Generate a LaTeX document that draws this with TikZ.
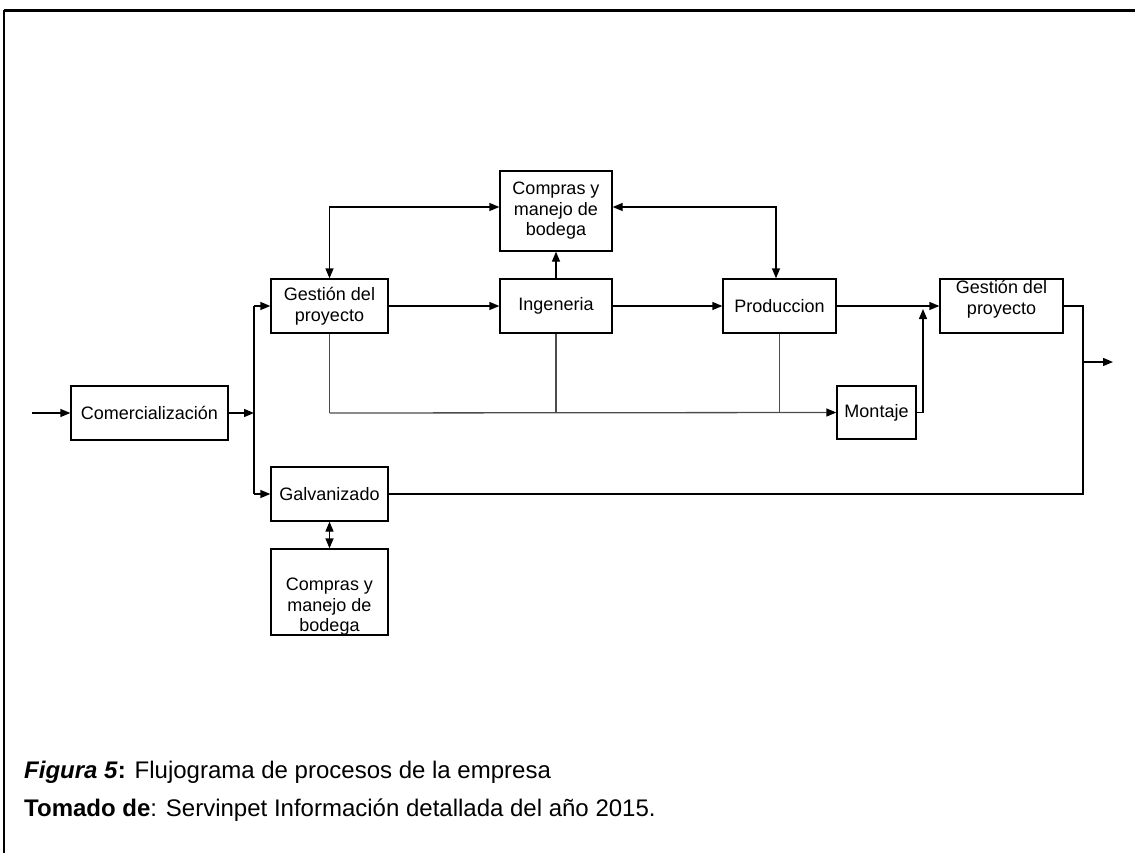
\documentclass[tikz,border=0pt]{standalone}
\usepackage{fontspec}
\setmainfont{Liberation Sans}
\usetikzlibrary{arrows.meta}
\begin{document}
\begin{tikzpicture}[x=1pt,y=-1pt,
  box/.style={draw, line width=1.3pt, inner sep=0pt, align=center,
    font=\fontsize{18}{20.5}\selectfont},
  txt/.style={inner sep=0pt, align=center, font=\fontsize{18}{20.5}\selectfont},
  flow/.style={line width=1.3pt, -{Triangle[length=10pt,width=8pt,color=black]}},
  both/.style={line width=1.3pt, {Triangle[length=10pt,width=8pt]}-{Triangle[length=10pt,width=8pt]}},
  wire/.style={line width=1.3pt},
  buswire/.style={line width=1.3pt, draw=black!70},
  captext/.style={anchor=base west, inner sep=0pt, font=\fontsize{24}{28}\selectfont}]
\useasboundingbox (0,0) rectangle (1135,853);

% frame (top and left edges)
\draw[line width=2.5pt] (4,10.5) -- (1136,10.5);
\draw[line width=1.6pt] (4,10.5) -- (4,854);

% process boxes
\node[box, minimum width=157pt, minimum height=54pt] (com) at (149.5,413) {Comercializaci\'on};
\node[box, minimum width=117pt, minimum height=54pt] (gp1) at (329.5,306) {Gesti\'on del\\proyecto};
\node[box, minimum width=112pt, minimum height=80pt] (cb1) at (556,211) {Compras y\\manejo de\\bodega};
\node[box, minimum width=112pt, minimum height=54pt] (ing) at (556,306) {Ingeneria};
\node[box, minimum width=113pt, minimum height=54pt] (prod) at (779.5,306) {Produccion};
\node[box, minimum width=123pt, minimum height=54pt] (gp2) at (1001.5,306) {};
\node[txt] (gp2t) at ([yshift=7pt]gp2.center) {Gesti\'on del\\proyecto};
\node[box, minimum width=79pt, minimum height=53pt] (mon) at (876.5,412.5) {Montaje};
\node[box, minimum width=117pt, minimum height=54pt] (gal) at (329.5,494) {Galvanizado};
\node[box, minimum width=117pt, minimum height=86pt] (cb2) at (329.5,592) {};
\node[txt] (cb2t) at ([yshift=-15pt]cb2.center) {Compras y\\manejo de\\bodega};

% helper points
\coordinate (in) at (32,413);
\coordinate (split) at (254,413);
\coordinate (busB) at (329.5,413);
\coordinate (join) at (923,306);
\coordinate (outx) at (1083,362);
\coordinate (out) at (1113,362);

% input and split
\draw[flow] (in) -- (com.west);
\draw[flow] (com.east) -- (split);
\draw[wire] (split) -- (split |- gp1.west);
\draw[wire] (split) -- (split |- gal.west);
\draw[flow] (split |- gp1.west) -- (gp1.west);
\draw[flow] (split |- gal.west) -- (gal.west);

% main line
\draw[flow] (gp1.east) -- (ing.west);
\draw[flow] (ing.east) -- (prod.west);
\draw[flow] (prod.east) -- (gp2.west);

% purchasing links
\draw[both] (gp1.north) |- ([yshift=4pt]cb1.west);
\draw[both] ([yshift=4pt]cb1.east) -| ([xshift=-3.5pt]prod.north);
\draw[flow] (ing.north) -- (cb1.south);
\draw[both] (gal.south) -- (cb2.north);

% lower bus to Montaje
\draw[buswire] (gp1.south) -- (busB);
\draw[buswire] (ing.south) -- (ing.south |- busB);
\draw[buswire] (prod.south) -- (prod.south |- busB);
\draw[flow, draw=black!70] (busB) -- (mon.west);
\draw[flow] (mon.east) -| ([yshift=-3pt]join);

% output
\draw[wire] (gp2.east) -| (outx);
\draw[wire] (gal.east) -| (outx);
\draw[flow] (outx) -- (out);

% caption
\node[captext] (c1) at (24,778) {\textbf{\textit{Figura 5}:} Flujograma de procesos de la empresa};
\node[captext] (c2) at (24,816) {\textbf{Tomado de}: Servinpet Informaci\'on detallada del a\~no 2015.};
\end{tikzpicture}
\end{document}
